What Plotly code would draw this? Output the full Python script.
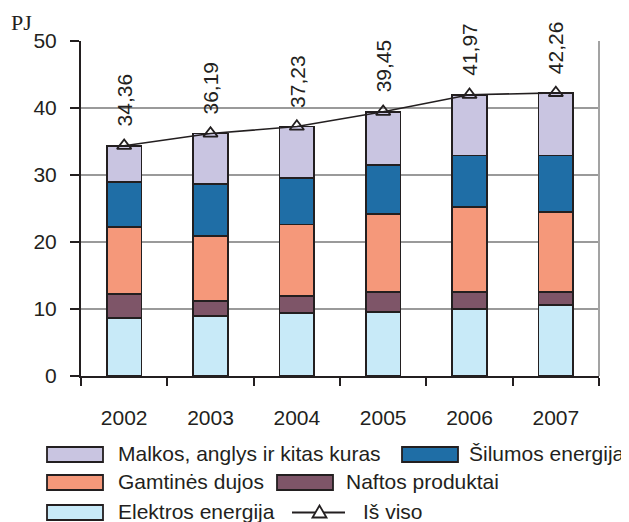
import plotly.graph_objects as go

years = ["2002", "2003", "2004", "2005", "2006", "2007"]
elektros = [8.7, 9.0, 9.35, 9.6, 9.95, 10.6]
naftos = [3.5, 2.2, 2.55, 2.9, 2.55, 1.9]
dujos = [10.0, 9.7, 10.7, 11.7, 12.7, 12.0]
silumos = [6.8, 7.8, 7.0, 7.3, 7.7, 8.4]
malkos = [5.36, 7.49, 7.63, 7.95, 9.07, 9.36]
is_viso = [34.36, 36.19, 37.23, 39.45, 41.97, 42.26]
y_ticks = [0, 10, 20, 30, 40, 50]

FONT = "Liberation Sans, Arial, sans-serif"
TXT = "#231f20"
EDGE = "#231f20"

names = {
    "elektros": "Elektros energija",
    "naftos": "Naftos produktai",
    "dujos": "Gamtinės dujos",
    "silumos": "Šilumos energija",
    "malkos": "Malkos, anglys ir kitas kuras",
    "total": "Iš viso",
}
colors = {
    "elektros": "#c8eaf8",
    "naftos": "#7e5568",
    "dujos": "#f5987a",
    "silumos": "#1f6ea6",
    "malkos": "#c9c5e1",
}
values = {"elektros": elektros, "naftos": naftos, "dujos": dujos,
          "silumos": silumos, "malkos": malkos}

# figure geometry (page offset of 8px from default body margin compensated)
W, H = 621, 514
ML, MR, MT, MB = 73, 30, 33, 146
OFF = 8
PX0 = OFF + ML
PW = W - ML - MR
PYB = OFF + H - MB
PH = H - MT - MB


def px(x):
    return (x - PX0) / PW


def py(y):
    return (PYB - y) / PH


fig = go.Figure()
for key in ["elektros", "naftos", "dujos", "silumos", "malkos"]:
    fig.add_trace(go.Bar(
        x=years, y=values[key], name=names[key], width=0.4, showlegend=False,
        marker=dict(color=colors[key], line=dict(color=EDGE, width=1.8)),
    ))

fig.add_trace(go.Scatter(
    x=years, y=is_viso, name=names["total"], showlegend=False,
    mode="lines+markers",
    line=dict(color=TXT, width=1.6),
    marker=dict(symbol="triangle-up-open", size=12.5, color=TXT,
                line=dict(width=1.8, color=TXT)),
))

for i, v in enumerate(is_viso):
    fig.add_annotation(
        x=i, y=v, xref="x", yref="y",
        text=f"{v:.2f}".replace(".", ","),
        textangle=-90, showarrow=False,
        xanchor="center", yanchor="bottom", yshift=17,
        font=dict(family=FONT, size=21, color=TXT),
    )

fig.add_annotation(
    x=px(9), y=py(23), xref="paper", yref="paper", text="PJ",
    showarrow=False, xanchor="left", yanchor="middle",
    font=dict(family="Liberation Serif, Times New Roman, serif", size=22, color=TXT),
)

fig.add_shape(type="line", xref="paper", yref="paper", x0=1, x1=1, y0=0, y1=1,
              line=dict(color="#a3a3a3", width=2))

# manual legend: (key, box left px, text left px, row centre px)
legend_items = [
    ("malkos", 47, 116, 454.5),
    ("silumos", 402, 467, 454.5),
    ("dujos", 47, 116, 482.5),
    ("naftos", 277, 344, 482.5),
    ("elektros", 47, 116, 512.5),
]
for key, bx, tx, cy in legend_items:
    fig.add_shape(type="rect", xref="paper", yref="paper",
                  x0=px(bx), x1=px(bx + 56), y0=py(cy - 7.5), y1=py(cy + 7.5),
                  fillcolor=colors[key], line=dict(color=EDGE, width=1.8))
    fig.add_annotation(x=px(tx), y=py(cy - 1), xref="paper", yref="paper",
                       text=names[key], showarrow=False, xanchor="left", yanchor="middle",
                       font=dict(family=FONT, size=21, color=TXT))

# line legend entry
ly = 512.5
fig.add_shape(type="line", xref="paper", yref="paper",
              x0=px(292), x1=px(345), y0=py(ly), y1=py(ly),
              line=dict(color=TXT, width=1.8))
fig.add_shape(type="path", xref="paper", yref="paper",
              path=f"M {px(312.5)},{py(517.5)} L {px(326.5)},{py(517.5)} L {px(319.5)},{py(505.5)} Z",
              fillcolor="white", line=dict(color=TXT, width=1.8))
fig.add_annotation(x=px(361), y=py(ly - 1), xref="paper", yref="paper",
                   text=names["total"], showarrow=False, xanchor="left", yanchor="middle",
                   font=dict(family=FONT, size=21, color=TXT))

fig.update_layout(
    width=W, height=H,
    margin=dict(l=ML, r=MR, t=MT, b=MB),
    paper_bgcolor="white", plot_bgcolor="white",
    barmode="stack", bargap=0.6,
    font=dict(family=FONT, size=21, color=TXT),
    showlegend=False,
    xaxis=dict(
        type="category", range=[-0.5, 5.5], tickson="boundaries", ticks="outside", ticklen=8,
        tickwidth=1.8, tickcolor=TXT, showline=True, linecolor=TXT, linewidth=2,
        showgrid=False, ticklabelstandoff=22,
        tickfont=dict(family=FONT, size=21, color=TXT),
    ),
    yaxis=dict(
        range=[0, 50], tickvals=y_ticks, ticks="outside", ticklen=9,
        tickwidth=1.8, tickcolor=TXT, showline=True, linecolor=TXT, linewidth=2,
        showgrid=True, gridcolor="#9a9a9a", gridwidth=1.5, zeroline=False,
        ticklabelstandoff=9,
        tickfont=dict(family=FONT, size=21, color=TXT),
    ),
)

fig.write_html("out.html")
